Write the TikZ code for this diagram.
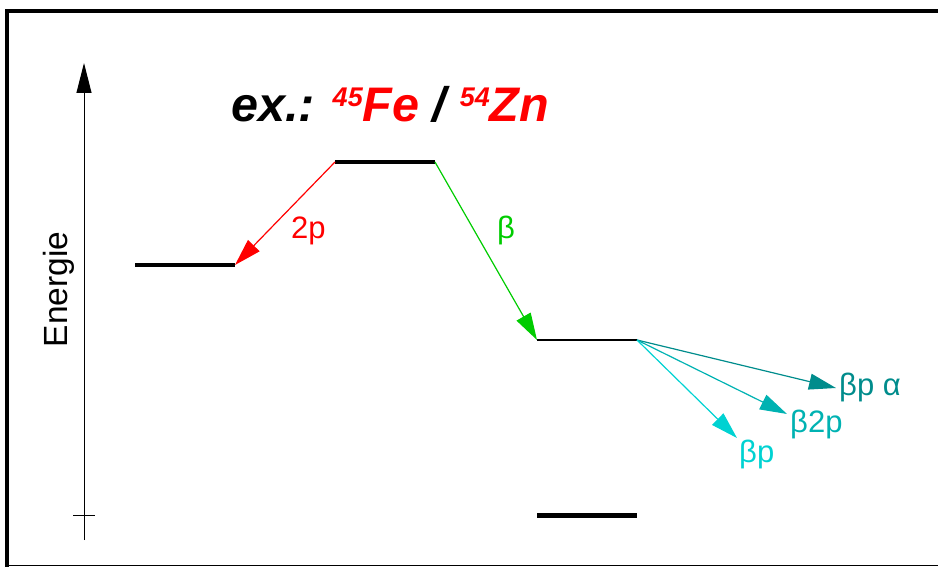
\documentclass[tikz,border=0pt]{standalone}
\usepackage{fontspec}
\setmainfont{Liberation Sans}
\usetikzlibrary{arrows.meta}
\definecolor{cRed}{RGB}{255,0,0}
\definecolor{cGreen}{RGB}{0,204,0}
\definecolor{cTealA}{RGB}{0,140,140}
\definecolor{cTealB}{RGB}{0,178,178}
\definecolor{cTealC}{RGB}{0,210,210}
\tikzset{
  level/.style={line width=4.5pt},
  thinlevel/.style={line width=1.3pt},
  decay/.style={line width=1.2pt,-{Triangle[length=27pt,width=16pt]}},
  lbl/.style={font=\fontsize{31}{34}\selectfont, inner sep=0pt},
}
\begin{document}
\begin{tikzpicture}[x=1pt,y=-1pt]
\useasboundingbox (0,0) rectangle (938,567);
% frame
\draw[line width=4pt] (7,567) -- (7,11) -- (938,11);
\draw[line width=1pt] (5,565) -- (938,565);
% axis
\coordinate (axB) at (84,540);
\coordinate (axT) at (84,63);
\coordinate (tkL) at (73,515);
\coordinate (tkR) at (95,515);
\draw[line width=1pt,-{Triangle[length=30pt,width=15pt]}] (axB) -- (axT);
\draw[line width=1pt] (tkL) -- (tkR);
\node[rotate=90, anchor=base, font=\fontsize{33.5}{36}\selectfont, inner sep=0pt] (en) at (67,289.5) {Energie};
% levels
\coordinate (A1) at (135,265); \coordinate (A2) at (235,265);
\coordinate (B1) at (335,162); \coordinate (B2) at (435,162);
\coordinate (C1) at (537,340); \coordinate (C2) at (637,340);
\coordinate (D1) at (537,515.5); \coordinate (D2) at (637,515.5);
\draw[level] (A1) -- (A2);
\draw[level] (B1) -- (B2);
\draw[thinlevel] (C1) -- (C2);
\draw[level] (D1) -- (D2);
% title
\node[anchor=base west, inner sep=0pt, font=\fontsize{48.5}{52}\selectfont\bfseries\itshape] (title) at (231,122)
 {ex.: \textcolor{cRed}{\raisebox{15.5pt}{\fontsize{27}{29}\selectfont 45}Fe} / \textcolor{cRed}{\raisebox{15.5pt}{\fontsize{27}{29}\selectfont 54}Zn}};
% decays
\coordinate (tA) at (836,388);
\coordinate (tB) at (787,414);
\coordinate (tC) at (737,438);
\draw[decay, cRed] (B1) -- (A2);
\draw[decay, cGreen] (B2) -- (C1);
\draw[decay, cTealA] (C2) -- (tA);
\draw[decay, cTealB] (C2) -- (tB);
\draw[decay, cTealC] (C2) -- (tC);
% labels
\node[lbl, text=cRed, anchor=base west] (l2p) at (291,239) {2p};
\node[lbl, text=cGreen, anchor=base west] (lb) at (497,238) {β};
\node[lbl, text=cTealA, anchor=base west] (lbpa) at (839,395) {βp α};
\node[lbl, text=cTealB, anchor=base west] (lb2p) at (790,432) {β2p};
\node[lbl, text=cTealC, anchor=base west] (lbp) at (739,462) {βp};
\end{tikzpicture}
\end{document}
